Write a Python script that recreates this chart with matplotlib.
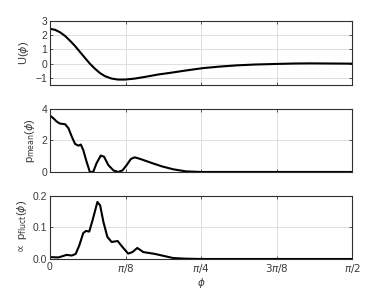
import numpy as np
import matplotlib.pyplot as plt

# x positions given as fraction of pi/2
u_x = [0, 0.017, 0.033, 0.05, 0.066, 0.083, 0.099, 0.116, 0.132, 0.149, 0.166,
       0.182, 0.204, 0.226, 0.248, 0.281, 0.315, 0.359, 0.397, 0.45, 0.508,
       0.56, 0.618, 0.68, 0.75, 0.81, 0.861, 0.93, 1.0]
u_y = [2.45, 2.38, 2.21, 1.95, 1.62, 1.24, 0.83, 0.4, 0.0, -0.36, -0.67,
       -0.88, -1.05, -1.12, -1.12, -1.05, -0.93, -0.76, -0.65, -0.48, -0.31,
       -0.21, -0.12, -0.06, -0.02, 0.01, 0.02, 0.01, 0.0]

pm_x = [0, 0.011, 0.022, 0.033, 0.05, 0.061, 0.072, 0.083, 0.094, 0.102,
        0.11, 0.121, 0.132, 0.143, 0.154, 0.168, 0.179, 0.193, 0.21, 0.226,
        0.24, 0.254, 0.268, 0.281, 0.303, 0.337, 0.37, 0.408, 0.45, 0.5, 1.0]
pm_y = [3.58, 3.41, 3.2, 3.07, 3.03, 2.78, 2.25, 1.78, 1.67, 1.74,
        1.4, 0.66, 0.0, 0.0, 0.55, 1.04, 0.97, 0.44, 0.1, 0.0,
        0.1, 0.44, 0.83, 0.93, 0.8, 0.57, 0.36, 0.17, 0.04, 0.0, 0.0]

pf_x = [0, 0.028, 0.055, 0.072, 0.085, 0.097, 0.11, 0.119, 0.13, 0.141,
        0.157, 0.166, 0.177, 0.19, 0.204, 0.224, 0.24, 0.259, 0.273, 0.289,
        0.309, 0.348, 0.408, 0.45, 0.5, 1.0]
pf_y = [0.006, 0.005, 0.013, 0.011, 0.016, 0.043, 0.082, 0.089, 0.087, 0.123,
        0.181, 0.17, 0.117, 0.07, 0.054, 0.057, 0.038, 0.017, 0.022, 0.035,
        0.022, 0.016, 0.003, 0.001, 0.0, 0.0]

xtick_labels = ['0', r'$\pi/8$', r'$\pi/4$', r'$3\pi/8$', r'$\pi/2$']
xticks = np.array([0, 1, 2, 3, 4]) * np.pi / 8

plt.rcParams['font.family'] = ['Liberation Sans', 'DejaVu Sans']
plt.rcParams['mathtext.fontset'] = 'dejavusans'

fig = plt.figure(figsize=(3.89, 2.92), dpi=100)
left, width = 0.1285, 0.7765
boxes = [(0.709, 0.219), (0.411, 0.216), (0.113, 0.216)]

panels = [
    (u_x, u_y, (-1.5, 3), [-1, 0, 1, 2, 3], r'U($\phi$)'),
    (pm_x, pm_y, (0, 4), [0, 2, 4], r'p$_{\rm mean}$($\phi$)'),
    (pf_x, pf_y, (0, 0.2), [0, 0.1, 0.2], r'$\propto$ p$_{\rm fluct}$($\phi$)'),
]

tick_gray = '#3a3a3a'
for i, ((x, y, ylim, yt, lab), (b, h)) in enumerate(zip(panels, boxes)):
    ax = fig.add_axes([left, b, width, h])
    ax.plot(np.array(x) * np.pi / 2, y, color='black', lw=1.5)
    ax.set_xlim(0, np.pi / 2)
    ax.set_ylim(*ylim)
    ax.set_yticks(yt)
    ax.set_xticks(xticks)
    if i == 2:
        ax.set_xticklabels(xtick_labels)
        ax.set_xlabel(r'$\phi$', fontsize=7.5, color=tick_gray, labelpad=1)
    else:
        ax.set_xticklabels([])
    ax.grid(True, color='#dedede', lw=0.7)
    ax.set_axisbelow(True)
    ax.tick_params(direction='in', top=True, right=True, length=2.5, width=0.6,
                   labelsize=7.5, colors=tick_gray, pad=2)
    for s in ax.spines.values():
        s.set_color('#303030')
        s.set_linewidth(0.8)
    ax.set_ylabel(lab, fontsize=8, color=tick_gray, labelpad=3)

fig.align_ylabels(fig.axes)
fig.savefig('out.png', dpi=100)
